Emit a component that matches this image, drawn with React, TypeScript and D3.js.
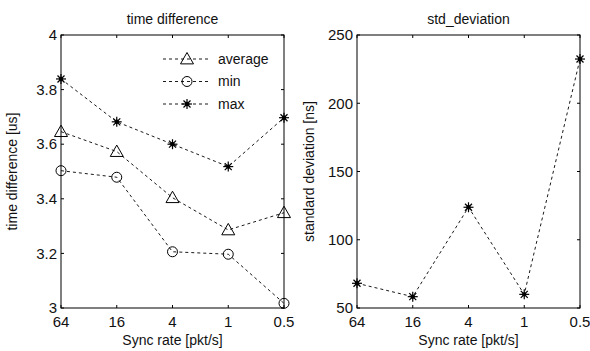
import React from "react";
import * as d3 from "d3";

const categories = ["64", "16", "4", "1", "0.5"];
const avgValues = [3.646, 3.573, 3.404, 3.286, 3.349];
const minValues = [3.503, 3.479, 3.206, 3.197, 3.017];
const maxValues = [3.839, 3.682, 3.600, 3.518, 3.697];
const stdValues = [68.1, 58.3, 123.8, 60.0, 232.4];
const leftTicks = [3, 3.2, 3.4, 3.6, 3.8, 4];
const rightTicks = [50, 100, 150, 200, 250];

const W = 590;
const H = 351;
const FONT = "Arial, 'Liberation Sans', sans-serif";
const TICK = 3;
const TICK_FS = 15;
const LABEL_FS = 14;

type Marker = "triangle" | "circle" | "star";

function MarkerShape({ x, y, type }: { x: number; y: number; type: Marker }) {
  if (type === "triangle") {
    const s = 6.5;
    return (
      <path
        d={`M${x},${y - s} L${x + s},${y + s * 0.75} L${x - s},${y + s * 0.75} Z`}
        fill="none"
        stroke="#000"
        strokeWidth={1}
      />
    );
  }
  if (type === "circle") {
    return <circle cx={x} cy={y} r={5} fill="none" stroke="#000" strokeWidth={1} />;
  }
  const r = 5;
  const d = r * 0.7;
  return (
    <g stroke="#000" strokeWidth={1.2}>
      <line x1={x - r} y1={y} x2={x + r} y2={y} />
      <line x1={x} y1={y - r} x2={x} y2={y + r} />
      <line x1={x - d} y1={y - d} x2={x + d} y2={y + d} />
      <line x1={x - d} y1={y + d} x2={x + d} y2={y - d} />
      <circle cx={x} cy={y} r={1.6} fill="#000" />
    </g>
  );
}

function Axes({
  left,
  right,
  top,
  bottom,
  y,
  yTicks,
  tickFmt,
  title,
  ylabel,
  ylabelX,
  series,
  legend,
}: {
  left: number;
  right: number;
  top: number;
  bottom: number;
  y: d3.ScaleLinear<number, number>;
  yTicks: number[];
  tickFmt: (v: number) => string;
  title: string;
  ylabel: string;
  ylabelX: number;
  series: { values: number[]; marker: Marker; name: string }[];
  legend: boolean;
}) {
  const x = d3.scalePoint<string>().domain(categories).range([left, right]);
  const line = d3
    .line<number>()
    .x((_, i) => x(categories[i]) as number)
    .y((v) => y(v));
  const cx = (left + right) / 2;
  return (
    <g>
      {series.map((s) => (
        <g key={s.name}>
          <path d={line(s.values) || ""} fill="none" stroke="#000" strokeWidth={0.9} strokeDasharray="3,3" />
          {s.values.map((v, i) => (
            <MarkerShape key={i} x={x(categories[i]) as number} y={y(v)} type={s.marker} />
          ))}
        </g>
      ))}
      <rect x={left} y={top} width={right - left} height={bottom - top} fill="none" stroke="#000" strokeWidth={1} />
      {yTicks.map((t) => (
        <g key={t}>
          <line x1={left} x2={left + TICK} y1={y(t)} y2={y(t)} stroke="#000" />
          <line x1={right} x2={right - TICK} y1={y(t)} y2={y(t)} stroke="#000" />
          <text x={left - 4} y={y(t)} dy="0.35em" textAnchor="end" fontSize={TICK_FS} fontFamily={FONT} fill="#111">
            {tickFmt(t)}
          </text>
        </g>
      ))}
      {categories.map((c) => (
        <g key={c}>
          <line x1={x(c)} x2={x(c)} y1={bottom} y2={bottom - TICK} stroke="#000" />
          <line x1={x(c)} x2={x(c)} y1={top} y2={top + TICK} stroke="#000" />
          <text x={x(c)} y={bottom + 19} textAnchor="middle" fontSize={TICK_FS} fontFamily={FONT} fill="#111">
            {c}
          </text>
        </g>
      ))}
      <text x={cx} y={top - 11} textAnchor="middle" fontSize={LABEL_FS} fontFamily={FONT} fill="#111">
        {title}
      </text>
      <text x={cx} y={bottom + 37} textAnchor="middle" fontSize={LABEL_FS} fontFamily={FONT} fill="#111">
        Sync rate [pkt/s]
      </text>
      <text
        transform={`translate(${ylabelX},${(top + bottom) / 2}) rotate(-90)`}
        textAnchor="middle"
        fontSize={LABEL_FS}
        fontFamily={FONT}
        fill="#111"
      >
        {ylabel}
      </text>
      {legend &&
        series.map((s, i) => {
          const ly = 59 + i * 22.5;
          return (
            <g key={s.name}>
              <line x1={163} x2={211} y1={ly} y2={ly} stroke="#000" strokeWidth={0.9} strokeDasharray="3,3" />
              <MarkerShape x={187} y={ly} type={s.marker} />
              <text x={218} y={ly} dy="0.35em" fontSize={LABEL_FS} fontFamily={FONT} fill="#111">
                {s.name}
              </text>
            </g>
          );
        })}
    </g>
  );
}

export default function App() {
  const top = 35;
  const bottom = 308;
  const yL = d3.scaleLinear().domain([3, 4]).range([bottom, top]);
  const yR = d3.scaleLinear().domain([50, 250]).range([bottom, top]);
  return (
    <svg width={W} height={H} style={{ position: "absolute", left: 0, top: 0, background: "#fff" }}>
      <rect width={W} height={H} fill="#fff" />
      <Axes
        left={61}
        right={284}
        top={top}
        bottom={bottom}
        y={yL}
        yTicks={leftTicks}
        tickFmt={(v) => d3.format("~g")(v)}
        title="time difference"
        ylabel="time difference [us]"
        ylabelX={17}
        series={[
          { values: avgValues, marker: "triangle", name: "average" },
          { values: minValues, marker: "circle", name: "min" },
          { values: maxValues, marker: "star", name: "max" },
        ]}
        legend={true}
      />
      <Axes
        left={357}
        right={580}
        top={top}
        bottom={bottom}
        y={yR}
        yTicks={rightTicks}
        tickFmt={(v) => String(v)}
        title="std_deviation"
        ylabel="standard deviation [ns]"
        ylabelX={314}
        series={[{ values: stdValues, marker: "star", name: "std" }]}
        legend={false}
      />
    </svg>
  );
}
